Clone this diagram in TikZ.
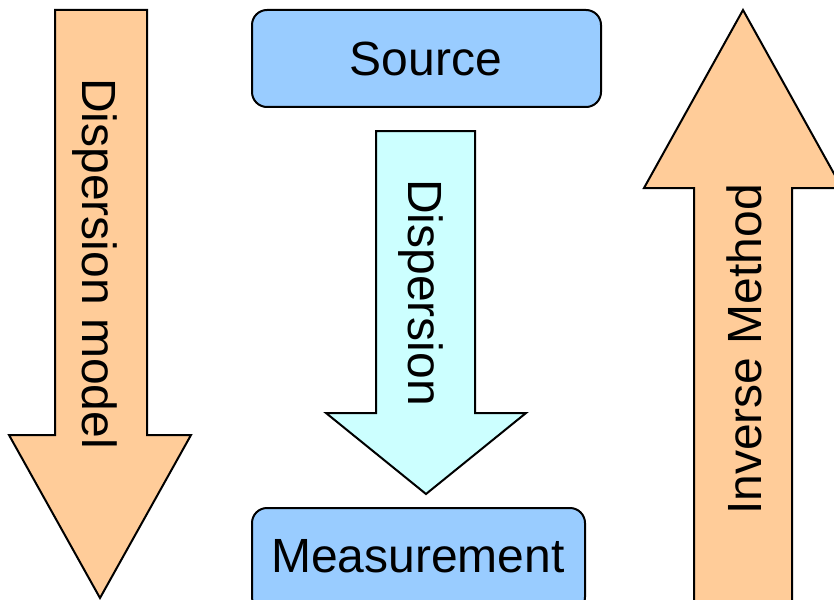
\documentclass[tikz,border=0pt]{standalone}
\usepackage{fontspec}
\setmainfont{Liberation Sans}
\definecolor{orangefill}{HTML}{FFCC99}
\definecolor{cyanfill}{HTML}{CCFFFF}
\definecolor{bluefill}{HTML}{99CCFF}
\begin{document}
\begin{tikzpicture}[x=1pt,y=-1pt,
  shapeline/.style={draw=black,line width=2pt,line join=miter},
  boxstyle/.style={shapeline,fill=bluefill,rounded corners=15pt},
  bigtext/.style={font=\fontsize{48}{57}\selectfont,inner sep=0pt}]
\useasboundingbox (0,0) rectangle (834,599);
\clip (0,0) rectangle (834,599);
% left arrow (down)
\draw[shapeline,fill=orangefill] (55,10) -- (147,10) -- (147,435) -- (191,435) -- (100,598) -- (9,435) -- (55,435) -- cycle;
% middle arrow (down)
\draw[shapeline,fill=cyanfill] (376,131) -- (475,131) -- (475,413) -- (526,413) -- (426,494) -- (326,413) -- (376,413) -- cycle;
% right arrow (up)
\draw[shapeline,fill=orangefill] (694,610) -- (694,188) -- (644,188) -- (743,10) -- (842,188) -- (792,188) -- (792,610) -- cycle;
% boxes
\draw[boxstyle] (252,10) rectangle (601,107);
\draw[boxstyle] (252,508) rectangle (585,612);
\node[bigtext] (src) at (426,59) {Source};
\node[bigtext] (meas) at (418,556) {Measurement};
% arrow labels
\node[bigtext,rotate=-90,anchor=base west] (dm) at (82,78) {Dispersion model};
\node[bigtext,rotate=-90,anchor=base west] (disp) at (408,179) {Dispersion};
\node[bigtext,rotate=90,anchor=base west] (inv) at (761,515) {Inverse Method};
\end{tikzpicture}
\end{document}
